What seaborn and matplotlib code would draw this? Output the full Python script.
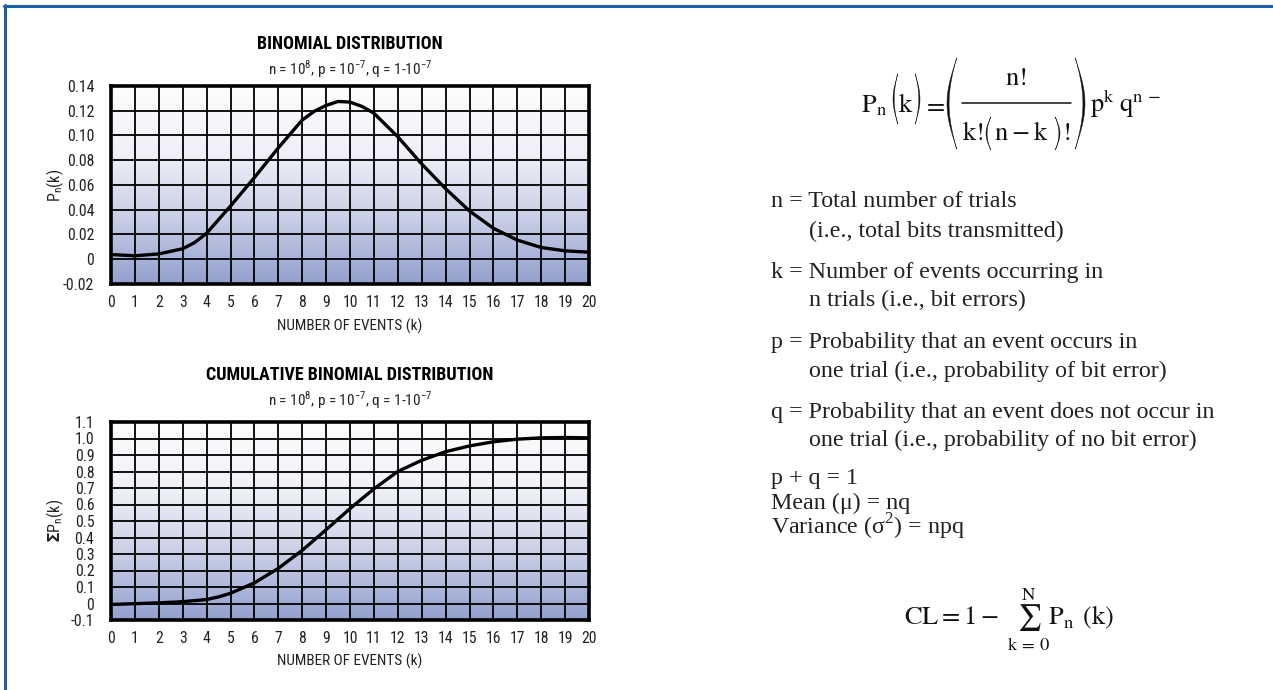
import numpy as np
import pandas as pd
import matplotlib
matplotlib.use("Agg")
import matplotlib.pyplot as plt
from matplotlib import font_manager
from matplotlib.font_manager import FontProperties
from matplotlib.lines import Line2D
from matplotlib.patches import Polygon
from matplotlib.transforms import Bbox, TransformedBbox
import seaborn as sns

# ---- data ----------------------------------------------------------------
k_pdf = [0, 1, 2, 3, 3.5, 4, 5, 6, 7, 8, 8.5, 9, 9.5, 10, 10.5, 11, 12, 13,
         14, 15, 16, 17, 18, 19, 20]
p_pdf = [0.0038, 0.0028, 0.0043, 0.0085, 0.0135, 0.021, 0.043, 0.066, 0.090,
         0.1125, 0.1195, 0.1243, 0.1275, 0.127, 0.1235, 0.118, 0.099, 0.077,
         0.057, 0.039, 0.025, 0.0155, 0.0095, 0.0068, 0.0057]

k_cdf = [0, 1, 2, 3, 4, 4.5, 5, 6, 7, 8, 9, 10, 11, 12, 13, 14, 15, 16, 17,
         18, 19, 20]
p_cdf = [-0.006, -0.001, 0.004, 0.011, 0.024, 0.040, 0.062, 0.125, 0.213,
         0.322, 0.447, 0.575, 0.695, 0.800, 0.868, 0.920, 0.955, 0.980,
         0.996, 1.004, 1.006, 1.004]

x_ticks = list(range(0, 21))
pdf_yticks = [-0.02, 0.0, 0.02, 0.04, 0.06, 0.08, 0.10, 0.12, 0.14]
pdf_ylabels = ["-0.02", "0", "0.02", "0.04", "0.06", "0.08", "0.10", "0.12", "0.14"]
cdf_yticks = [-0.1, 0.0, 0.1, 0.2, 0.3, 0.4, 0.5, 0.6, 0.7, 0.8, 0.9, 1.0, 1.1]
cdf_ylabels = ["-0.1", "0", "0.1", "0.2", "0.3", "0.4", "0.5", "0.6", "0.7",
               "0.8", "0.9", "1.0", "1.1"]

# ---- fonts ---------------------------------------------------------------
sns.set_theme(style="white")
SERIF = ["Liberation Serif", "DejaVu Serif"]


def _is_bold(w):
    if isinstance(w, (int, float)):
        return w >= 600
    return str(w).lower() in ("bold", "heavy", "black", "extra bold",
                              "semibold", "demibold", "ultrabold")


def narrow_font(bold):
    """Find a narrow/condensed sans face; fall back to a plain sans."""
    prefs = ["Liberation Sans Narrow", "Roboto Condensed",
             "Open Sans Condensed", "Noto Sans", "DejaVu Sans"]
    for name in prefs:
        for f in font_manager.fontManager.ttflist:
            if f.name != name or f.style != "normal":
                continue
            if _is_bold(f.weight) != bold:
                continue
            base = f.fname.split("/")[-1]
            if name in ("DejaVu Sans", "Noto Sans") and not (
                    "Condensed" in base and "Semi" not in base
                    and "Extra" not in base and "Mono" not in base):
                continue
            return FontProperties(fname=f.fname)
    return FontProperties(family="Roboto",
                          weight="bold" if bold else "normal")


FP = narrow_font(False)
FPB = narrow_font(True)
plt.rcParams["font.family"] = [FP.get_name(), "DejaVu Sans"]


def fp(size, bold=False):
    p = (FPB if bold else FP).copy()
    p.set_size(size)
    return p


# ---- figure --------------------------------------------------------------
W, H = 1273, 690
fig = plt.figure(figsize=(W / 100, H / 100), dpi=100)
fig.patch.set_facecolor("white")


def fx(x):
    return x / W


def fy(y):
    return 1 - y / H


# page frame: blue rule along top and left
blue = "#1d5ea8"
fig.add_artist(Line2D([fx(4), 1], [fy(5.5), fy(5.5)], color=blue, lw=2.2,
                      transform=fig.transFigure))
fig.add_artist(Line2D([fx(5.5), fx(5.5)], [fy(4.5), 0], color=blue, lw=2.2,
                      transform=fig.transFigure))

grad = np.linspace(0, 1, 256).reshape(-1, 1)
cmap = matplotlib.colors.LinearSegmentedColormap.from_list(
    "panel", ["#fdfdfe", "#f0f1f8", "#c9cfe6", "#93a0cf"])


def panel(rect, x, y, yticks, ylabels, ylim):
    ax = fig.add_axes(rect)
    ax.imshow(grad, extent=[0, 1, 0, 1], transform=ax.transAxes,
              aspect="auto", cmap=cmap, zorder=0, origin="upper")
    df = pd.DataFrame({"k": x, "v": y})
    sns.lineplot(data=df, x="k", y="v", ax=ax, color="black", lw=2.4,
                 zorder=5)
    ax.set_xlim(0, 20)
    ax.set_ylim(*ylim)
    ax.set_xticks(x_ticks)
    ax.set_xticklabels([str(t) for t in x_ticks], fontproperties=fp(11.3))
    ax.set_yticks(yticks)
    ax.set_yticklabels(ylabels, fontproperties=fp(11.3))
    ax.grid(True, color="black", lw=1.3, zorder=2)
    ax.set_axisbelow(False)
    for s in ax.spines.values():
        s.set_color("black")
        s.set_linewidth(2.6)
        s.set_zorder(6)
    ax.tick_params(axis="both", length=0, colors="#222222")
    ax.tick_params(axis="x", pad=8)
    ax.tick_params(axis="y", pad=12)
    ax.set_xlabel("")
    ax.set_ylabel("")
    return ax


ax1 = panel([fx(111), fy(284), 478 / W, 198 / H], k_pdf, p_pdf,
            pdf_yticks, pdf_ylabels, (-0.02, 0.14))
ax2 = panel([fx(111), fy(620), 478 / W, 198 / H], k_cdf, p_cdf,
            cdf_yticks, cdf_ylabels, (-0.1, 1.1))

sub = (r"n = 10$^{\mathregular{8}}$, p = 10$^{\mathregular{-7}}$, "
       r"q = 1-10$^{\mathregular{-7}}$")
cx = fx(350)
for title, ty, sy, xy in [("BINOMIAL DISTRIBUTION", 44, 69, 326),
                          ("CUMULATIVE BINOMIAL DISTRIBUTION", 375, 400, 661)]:
    fig.text(cx, fy(ty), title, ha="center", va="center",
             fontproperties=fp(13, True), color="black")
    fig.text(cx, fy(sy), sub, ha="center", va="center",
             fontproperties=fp(11), color="#222222")
    fig.text(cx, fy(xy), "NUMBER OF EVENTS (k)", ha="center", va="center",
             fontproperties=fp(11), color="#222222")

fig.text(fx(55), fy(185), r"P$_{\mathregular{n}}$(k)", rotation=90,
         ha="center", va="center", fontproperties=fp(11.5), color="#222222")
fig.text(fx(55), fy(521), r"$\mathbf{\Sigma}$P$_{\mathregular{n}}$(k)",
         rotation=90, ha="center", va="center", fontproperties=fp(11.5),
         color="#222222")

# ---- binomial formula on the right ----------------------------------------
FS = 19
ink = "#111111"


def mtext(x, y, s, ha="left", size=FS):
    return fig.text(fx(x), fy(y), s, ha=ha, va="baseline", fontsize=size,
                    math_fontfamily="stix", color=ink)


def paren(x_end, y_top, y_bot, depth, thick, side):
    t = np.linspace(0, 1, 60)
    yy = y_top + (y_bot - y_top) * t
    bulge = np.sin(np.pi * t)
    s = -1 if side == "left" else 1
    outer = x_end + s * depth * bulge
    inner = x_end + s * 0.5 + s * (depth - thick) * bulge
    pts = np.column_stack([np.r_[outer, inner[::-1]],
                           np.r_[yy, yy[::-1]]])
    pts = np.column_stack([fx(pts[:, 0]), fy(pts[:, 1])])
    fig.add_artist(Polygon(pts, closed=True, facecolor=ink, edgecolor=ink,
                           lw=0.3, transform=fig.transFigure))


# left-hand side  P_n (k) =
mtext(861, 112, r"$\mathrm{P_n}$")
paren(898, 74, 124, 5, 1.7, "left")
mtext(906, 112, r"$\mathrm{k}$", ha="center")
paren(915, 74, 124, 5, 1.7, "right")
mtext(923, 112, r"$\mathrm{=}$")

# fraction  n! / k!(n-k)!
mtext(1016, 85, r"$\mathrm{n!}$", ha="center")
fig.add_artist(Line2D([fx(962), fx(1071)], [fy(103), fy(103)], color=ink,
                      lw=1.1, transform=fig.transFigure))
mtext(962, 140, r"$\mathrm{k!}$")
paren(991, 117, 150, 5, 1.6, "left")
mtext(994, 140, r"$\mathrm{n\:-\:k}$")
paren(1055, 117, 150, 5, 1.6, "right")
mtext(1062, 140, r"$\mathrm{!}$")

paren(957, 58, 149, 10, 2.6, "left")
paren(1075, 58, 149, 10, 2.6, "right")

tail = mtext(1090, 112, r"$\mathrm{p^k\;q^{n\,-\,k}}$")
tail.set_clip_box(TransformedBbox(
    Bbox([[fx(1080), fy(160)], [fx(1163), fy(40)]]), fig.transFigure))
tail.set_clip_on(True)

# ---- definitions ---------------------------------------------------------
lines = [
    (771, 207, "n = Total number of trials"),
    (809, 237, "(i.e., total bits transmitted)"),
    (771, 278, "k = Number of events occurring in"),
    (809, 306, "n trials (i.e., bit errors)"),
    (771, 348, "p = Probability that an event occurs in"),
    (809, 377, "one trial (i.e., probability of bit error)"),
    (771, 418, "q = Probability that an event does not occur in"),
    (809, 446, "one trial (i.e., probability of no bit error)"),
    (771, 484, "p + q = 1"),
    (771, 509, "Mean (\u03bc) = nq"),
    (771, 535, "Variance (\u03c3$^{\\mathregular{2}}$) = npq"),
]
for x, y, s in lines:
    fig.text(fx(x), fy(y), s, ha="left", va="baseline", fontsize=17.3,
             family=SERIF, color="#222222")

cl = (r"$\mathrm{CL} = 1 - \;\sum_{\mathrm{k\,=\,0}}^{\mathrm{N}}"
      r"\mathrm{P_n}\;\,(\mathrm{k})$")
fig.text(fx(1009), fy(620), cl, ha="center", va="center", fontsize=19,
         math_fontfamily="stix", color=ink)

fig.savefig("out.png", dpi=100, facecolor="white")
